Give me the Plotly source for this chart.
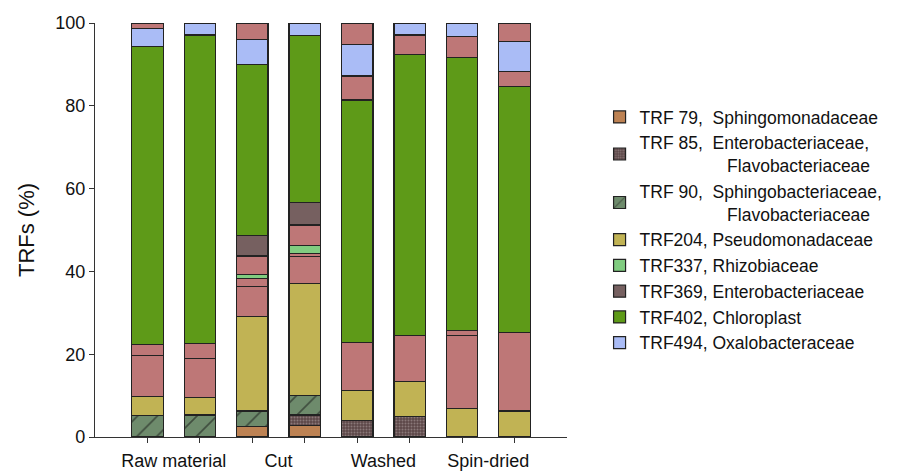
import plotly.graph_objects as go

groups = ["Raw material", "Cut", "Washed", "Spin-dried"]
bar_pos = [0, 1, 2, 3, 4, 5, 6, 7]
group_pos = [0.5, 2.5, 4.5, 6.5]

trf79  = [0, 0, 2.5, 2.7, 0, 0, 0, 0]
trf85  = [0, 0, 0, 2.6, 3.9, 4.9, 0, 0]
trf90  = [5.1, 5.3, 3.8, 4.8, 0, 0, 0, 0]
trf204 = [4.6, 4.3, 22.9, 26.9, 7.3, 8.6, 6.9, 6.3]
other_a = [9.9, 9.4, 7.1, 6.6, 11.6, 11.0, 17.6, 19.0]
other_b = [2.8, 3.6, 2.0, 0.8, 0, 0, 1.3, 0]
trf337 = [0, 0, 1.0, 1.9, 0, 0, 0, 0]
other_c = [0, 0, 4.4, 4.9, 0, 0, 0, 0]
trf369 = [0, 0, 4.9, 5.5, 0, 0, 0, 0]
trf402 = [72.0, 74.5, 41.3, 40.2, 58.6, 67.9, 65.9, 59.3]
other_d = [0, 0, 0, 0, 5.8, 4.7, 5.0, 3.6]
trf494 = [4.3, 2.9, 6.2, 3.1, 7.7, 2.9, 3.3, 7.3]
other_e = [1.3, 0, 3.9, 0, 5.1, 0, 0, 4.5]

NB = "\u00a0"
series = [
    ("TRF 79," + NB * 2 + "Sphingomonadaceae", trf79, "#BD8253", None, True),
    ("TRF 85," + NB * 2 + "Enterobacteriaceae,<br>" + NB * 18 + "Flavobacteriaceae", trf85, "#5C4748", ".", True),
    ("TRF 90," + NB * 2 + "Sphingobacteriaceae,<br>" + NB * 18 + "Flavobacteriaceae", trf90, "#6E8B6C", "/", True),
    ("TRF204, Pseudomonadaceae", trf204, "#C1B354", None, True),
    ("other a", other_a, "#BE7777", None, False),
    ("other b", other_b, "#BE7777", None, False),
    ("TRF337, Rhizobiaceae", trf337, "#80CC80", None, True),
    ("other c", other_c, "#BE7777", None, False),
    ("TRF369, Enterobacteriaceae", trf369, "#766060", None, True),
    ("TRF402, Chloroplast", trf402, "#5E9A18", None, True),
    ("other d", other_d, "#BE7777", None, False),
    ("TRF494, Oxalobacteraceae", trf494, "#AABCF6", None, True),
    ("other e", other_e, "#BE7777", None, False),
]

fig = go.Figure()
for name, vals, color, pat, show in series:
    marker = dict(color=color, line=dict(color="#222222", width=1.2))
    if pat == ".":
        marker["pattern"] = dict(shape=".", fgcolor="#B7A9A9", bgcolor=color, size=3, solidity=0.35)
    elif pat == "/":
        marker["pattern"] = dict(shape="/", fgcolor="#111111", bgcolor=color, size=14, solidity=0.12)
    fig.add_trace(go.Bar(x=bar_pos, y=vals, name=name, marker=marker,
                         showlegend=show, width=0.6))

fig.update_layout(
    barmode="stack",
    width=896, height=463,
    margin=dict(l=87, r=337, t=15, b=34, autoexpand=False),
    plot_bgcolor="white", paper_bgcolor="white",
    font=dict(family="Liberation Sans, Arial", size=18, color="#111111"),
    legend=dict(x=1.069, xanchor="left", y=0.5, yanchor="middle",
                font=dict(size=17.5), traceorder="normal",
                bgcolor="rgba(0,0,0,0)"),
    xaxis=dict(range=[-1, 8], tickvals=group_pos, ticktext=groups,
               ticks="outside", ticklen=7, tickcolor="rgba(0,0,0,0)",
               showline=True, linecolor="#333333", linewidth=1.2,
               showgrid=False, zeroline=False, automargin=False,
               minor=dict(tickvals=bar_pos, ticks="outside", ticklen=5,
                          tickcolor="#333333", tickwidth=1.2, showgrid=False)),
    yaxis=dict(range=[0, 100], tickvals=[0, 20, 40, 60, 80, 100],
               ticks="outside", ticklen=5, tickcolor="#333333", tickwidth=1.2,
               showline=True, linecolor="#333333", linewidth=1.2,
               showgrid=False, zeroline=False, automargin=False,
               title=dict(text="TRFs (%)", standoff=14)),
)

fig.write_html("out.html")
